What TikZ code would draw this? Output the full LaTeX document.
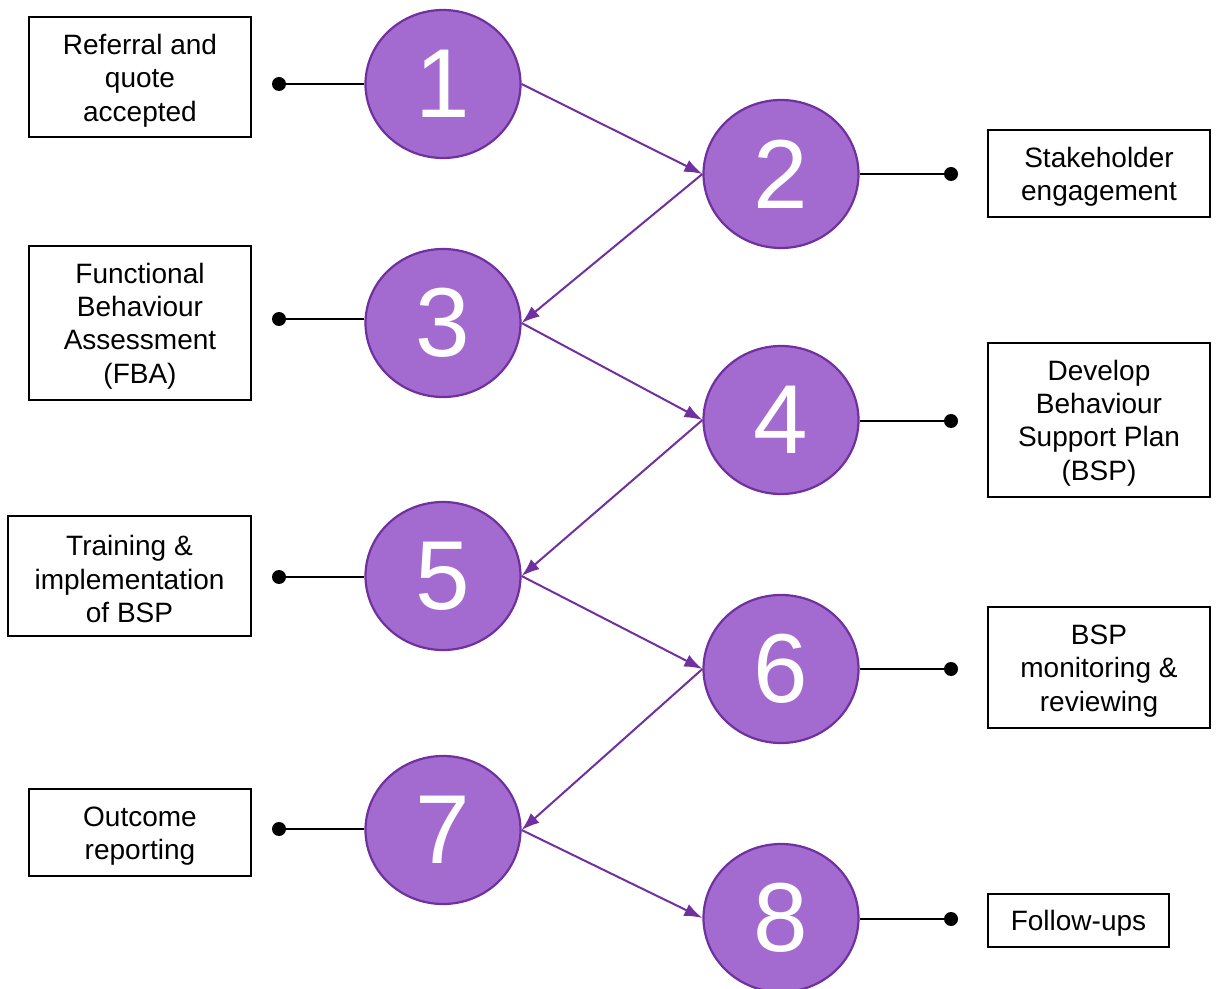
\documentclass[tikz,border=0pt]{standalone}
\usepackage{fontspec}
\setmainfont{Liberation Sans}
\usetikzlibrary{shapes.geometric,arrows.meta}
\definecolor{pfill}{HTML}{A36BCF}
\definecolor{pline}{HTML}{7030A0}
\tikzset{
  stepcirc/.style={ellipse, draw=pline, line width=1.1pt, fill=pfill, minimum width=77.5pt, minimum height=74pt, inner sep=0pt, text=white, font=\fontsize{49}{49}\selectfont},
  label box/.style={draw=black, line width=0.7pt, rectangle, inner sep=0pt},
  box text/.style={inner sep=0pt, align=center, font=\fontsize{14}{16.6}\selectfont},
  dotnode/.style={circle, fill=black, minimum size=7pt, inner sep=0pt},
  flow/.style={draw=pline, line width=1pt, -{Latex[length=9pt,width=6.5pt]}},
  tie/.style={draw=black, line width=0.7pt}
}
\begin{document}
\begin{tikzpicture}[x=0.5pt,y=-0.5pt]
\useasboundingbox (0,0) rectangle (1216,989);
% circles
\node[stepcirc] (c1) at (443,84) {1};
\node[stepcirc] (c2) at (781,174) {2};
\node[stepcirc] (c3) at (443,323) {3};
\node[stepcirc] (c4) at (781,420) {4};
\node[stepcirc] (c5) at (443,576) {5};
\node[stepcirc] (c6) at (781,669) {6};
\node[stepcirc] (c7) at (443,830) {7};
\node[stepcirc] (c8) at (781,918) {8};
% boxes
\node[label box, minimum width=111pt, minimum height=60pt] (b1) at (140,77) {};
\node[label box, minimum width=111pt, minimum height=77pt] (b3) at (140,323) {};
\node[label box, minimum width=121.5pt, minimum height=60pt] (b5) at (129.5,576) {};
\node[label box, minimum width=111pt, minimum height=43.5pt] (b7) at (140,832.5) {};
\node[label box, minimum width=111pt, minimum height=43.5pt] (b2) at (1099,173.5) {};
\node[label box, minimum width=111pt, minimum height=77pt] (b4) at (1099,420) {};
\node[label box, minimum width=111pt, minimum height=60.5pt] (b6) at (1099,667.5) {};
\node[label box, minimum width=90.5pt, minimum height=26.5pt] (b8) at (1078.5,920.5) {};
% box texts
\node[box text] (t1) at ([yshift=-1.8pt]b1.center) {Referral and\\quote\\accepted};
\node[box text] (t3) at ([yshift=-1.5pt]b3.center) {Functional\\Behaviour\\Assessment\\(FBA)};
\node[box text] (t5) at ([yshift=-1.5pt]b5.center) {Training \&\\implementation\\of BSP};
\node[box text] (t7) at ([yshift=-1.8pt]b7.center) {Outcome\\reporting};
\node[box text] (t2) at ([yshift=-1.5pt]b2.center) {Stakeholder\\engagement};
\node[box text] (t4) at ([yshift=-1.5pt]b4.center) {Develop\\Behaviour\\Support Plan\\(BSP)};
\node[box text] (t6) at ([yshift=-1.8pt]b6.center) {BSP\\monitoring \&\\reviewing};
\node[box text] (t8) at ([yshift=-1.5pt]b8.center) {Follow-ups};
% dots
\node[dotnode] (d1) at (279,84) {};
\node[dotnode] (d3) at (279,319) {};
\node[dotnode] (d5) at (279,577) {};
\node[dotnode] (d7) at (279,829) {};
\node[dotnode] (d2) at (951,174) {};
\node[dotnode] (d4) at (951,421) {};
\node[dotnode] (d6) at (951,669) {};
\node[dotnode] (d8) at (951,919) {};
% ties
\draw[tie] (d1.center) -- (c1.west |- d1);
\draw[tie] (d3.center) -- (c3.west |- d3);
\draw[tie] (d5.center) -- (c5.west |- d5);
\draw[tie] (d7.center) -- (c7.west |- d7);
\draw[tie] (d2.center) -- (c2.east |- d2);
\draw[tie] (d4.center) -- (c4.east |- d4);
\draw[tie] (d6.center) -- (c6.east |- d6);
\draw[tie] (d8.center) -- (c8.east |- d8);
% flow
\draw[flow] (c1.east) -- (c2.west);
\draw[flow] (c2.west) -- (c3.east);
\draw[flow] (c3.east) -- (c4.west);
\draw[flow] (c4.west) -- (c5.east);
\draw[flow] (c5.east) -- (c6.west);
\draw[flow] (c6.west) -- (c7.east);
\draw[flow] (c7.east) -- (c8.west);
\end{tikzpicture}
\end{document}
